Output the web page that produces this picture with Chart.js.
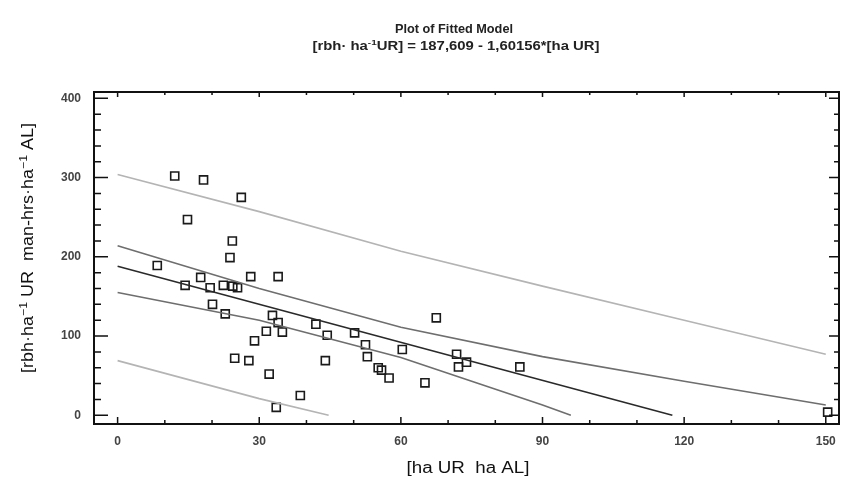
<!DOCTYPE html>
<html>
<head>
<meta charset="utf-8">
<style>
  html, body { margin: 0; padding: 0; background: #fff; }
  #wrap { width: 841px; height: 478px; }
</style>
</head>
<body>
<div id="wrap"><canvas id="fitChart" width="841" height="478"></canvas></div>

<script src="https://cdn.jsdelivr.net/npm/chart.js"></script>
<script>
// observed points [ha UR] vs [rbh·ha-1 UR]
const obsX = [12.1, 18.2, 26.2, 14.8, 24.3, 23.8, 8.4, 17.6, 28.2, 34.0, 14.3, 19.6, 22.4, 24.4, 25.4,
              20.1, 22.8, 32.8, 34.0, 34.9, 31.5, 29.0, 42.0, 44.4, 24.8, 27.8, 44.0, 32.1, 38.7, 33.6,
              50.2, 67.5, 52.5, 52.9, 60.3, 55.2, 55.9, 57.5, 65.1, 71.8, 73.9, 72.2, 85.2, 150.4];
const obsY = [302, 297, 275, 247, 220, 199, 189, 174, 175, 175, 164, 161, 164, 163, 161,
              140, 128, 126, 117, 105, 106, 94, 115, 101, 72, 69, 69, 52, 25, 10,
              104, 123, 89, 74, 83, 60, 57, 47, 41, 77, 67, 61, 61, 4];

// fitted line and limits
const fitX = [0, 117.5];
const fitY = [188, 0];
const upperConfX = [0, 30, 60, 90, 120, 150];
const upperConfY = [214, 160, 111, 74, 43, 13];
const lowerConfX = [0, 30, 60, 90, 96];
const lowerConfY = [155, 120, 73, 13, 0];
const upperPredX = [0, 30, 60, 90, 120, 150];
const upperPredY = [304, 257, 207, 163, 120, 77];
const lowerPredX = [0, 30, 44.7];
const lowerPredY = [69, 21, 0];

const xTicks = [0, 30, 60, 90, 120, 150];
const yTicks = [0, 100, 200, 300, 400];

function pts(xs, ys) {
    return xs.map((x, i) => ({ x: x, y: ys[i] }));
}

function lineSet(xs, ys, color) {
    return {
        type: "line",
        data: pts(xs, ys),
        borderColor: color,
        borderWidth: 1.6,
        pointRadius: 0,
        fill: false,
        tension: 0
    };
}

// text with superscript pieces, centered at x, stretched to width tw
function drawRich(ctx, parts, x, y, size, weight, tw) {
    let w = 0;
    parts.forEach(p => {
        ctx.font = weight + " " + (p.sup ? Math.round(size * 0.7) : size) + "px 'Liberation Sans', Arial, sans-serif";
        p.w = ctx.measureText(p.t).width;
        w += p.w;
    });
    const k = tw ? tw / w : 1;
    ctx.save();
    ctx.translate(x, y);
    ctx.scale(k, 1);
    let cx = -w / 2;
    parts.forEach(p => {
        ctx.font = weight + " " + (p.sup ? Math.round(size * 0.7) : size) + "px 'Liberation Sans', Arial, sans-serif";
        ctx.fillText(p.t, cx, p.sup ? -size * 0.4 : 0);
        cx += p.w;
    });
    ctx.restore();
}

const framePlugin = {
    id: "frame",
    afterDatasetsDraw(chart) {
        const ctx = chart.ctx;
        const a = chart.chartArea;
        const xs = chart.scales.x, ys = chart.scales.y;
        ctx.save();
        ctx.strokeStyle = "#111";
        ctx.lineWidth = 2;
        ctx.strokeRect(a.left, a.top, a.right - a.left, a.bottom - a.top);

        ctx.lineWidth = 1.5;
        ctx.beginPath();
        for (let v = 0; v <= 150; v += 10) {
            const px = xs.getPixelForValue(v);
            const major = v % 30 === 0;
            ctx.moveTo(px, a.bottom);
            ctx.lineTo(px, a.bottom - (major ? 7 : 4));
            ctx.moveTo(px, a.top);
            ctx.lineTo(px, a.top + (major ? 5 : 3));
        }
        for (let v = 0; v <= 400; v += 20) {
            const py = ys.getPixelForValue(v);
            const major = v % 100 === 0;
            ctx.moveTo(a.left, py);
            ctx.lineTo(a.left + (major ? 14 : 7), py);
            ctx.moveTo(a.right, py);
            ctx.lineTo(a.right - (major ? 10 : 5), py);
        }
        ctx.stroke();
        ctx.restore();
    },
    afterDraw(chart) {
        const ctx = chart.ctx;
        ctx.save();
        ctx.fillStyle = "#222";
        ctx.textBaseline = "alphabetic";
        drawRich(ctx, [{ t: "Plot of Fitted Model" }], 454, 33, 12, "bold", 118);
        drawRich(ctx, [
            { t: "[rbh\u00b7 ha" }, { t: "-1", sup: true },
            { t: "UR] = 187,609 - 1,60156*[ha UR]" }
        ], 456, 50, 12, "bold", 287);

        ctx.fillStyle = "#111";
        drawRich(ctx, [{ t: "[ha UR  ha AL]" }], 468, 473, 16, "normal", 123);

        ctx.translate(33, 248);
        ctx.rotate(-Math.PI / 2);
        drawRich(ctx, [
            { t: "[rbh\u00b7ha" }, { t: "\u22121", sup: true },
            { t: " UR  man-hrs\u00b7ha" }, { t: "\u22121", sup: true },
            { t: " AL]" }
        ], 0, 0, 16, "normal", 250);
        ctx.restore();
    }
};

const ctx = document.getElementById("fitChart").getContext("2d");
new Chart(ctx, {
    type: "scatter",
    data: {
        datasets: [
            lineSet(upperPredX, upperPredY, "#b4b4b4"),
            lineSet(lowerPredX, lowerPredY, "#b4b4b4"),
            lineSet(upperConfX, upperConfY, "#6e6e6e"),
            lineSet(lowerConfX, lowerConfY, "#6e6e6e"),
            lineSet(fitX, fitY, "#2a2a2a"),
            {
                type: "scatter",
                data: pts(obsX, obsY),
                pointStyle: "rect",
                pointRadius: 5.7,
                borderColor: "#1a1a1a",
                borderWidth: 1.6,
                backgroundColor: "rgba(0,0,0,0)"
            }
        ]
    },
    options: {
        responsive: false,
        animation: false,
        layout: { autoPadding: false, padding: { top: 92, right: 2, left: 0, bottom: 0 } },
        plugins: {
            legend: { display: false },
            tooltip: { enabled: false }
        },
        scales: {
            x: {
                type: "linear",
                min: -5,
                max: 152.8,
                grid: { display: false, drawTicks: false },
                border: { display: false },
                afterBuildTicks: s => { s.ticks = xTicks.map(v => ({ value: v })); },
                afterFit: s => { s.height = 54; s.paddingLeft = 0; s.paddingRight = 0; },
                ticks: {
                    padding: 10,
                    color: "#444",
                    font: { family: "'Liberation Sans', Arial, sans-serif", size: 12, weight: "bold" }
                }
            },
            y: {
                type: "linear",
                min: -11,
                max: 408,
                grid: { display: false, drawTicks: false },
                border: { display: false },
                afterBuildTicks: s => { s.ticks = yTicks.map(v => ({ value: v })); },
                afterFit: s => { s.width = 94; s.paddingTop = 0; s.paddingBottom = 0; },
                ticks: {
                    padding: 13,
                    color: "#444",
                    font: { family: "'Liberation Sans', Arial, sans-serif", size: 12, weight: "bold" }
                }
            }
        }
    },
    plugins: [framePlugin]
});
</script>
</body>
</html>
